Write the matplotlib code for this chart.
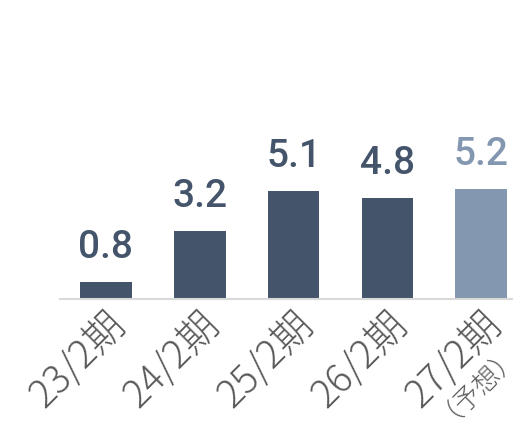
import matplotlib
matplotlib.use("Agg")
import matplotlib.pyplot as plt

plt.rcParams['font.family'] = ['Noto Sans CJK JP', 'DejaVu Sans']

labels = ['23/2期', '24/2期', '25/2期', '26/2期', '27/2期']
note = '（予想）'
values = [0.8, 3.2, 5.1, 4.8, 5.2]
colors = ['#44546a', '#44546a', '#44546a', '#44546a', '#8497b0']

fig = plt.figure(figsize=(5.13, 4.22), dpi=100)
ax = fig.add_axes([60/513, 123/422, 453/513, 299/422])

x = range(len(values))
ax.bar(x, values, width=0.55, color=colors)
for i, v in enumerate(values):
    ax.text(i, v + 0.75, f'{v:.1f}', ha='center', va='bottom',
            fontsize=28, fontweight='medium', color=colors[i],
            family=['Roboto', 'DejaVu Sans'])

ax.set_xlim(-0.49, 4.34)
ax.set_ylim(0, 14.14)
ax.set_yticks([])
ax.set_xticks(list(x))
ax.set_xticklabels(labels, rotation=45, ha='right', rotation_mode='anchor',
                   fontsize=28, color='#595959', fontweight='light')
ax.tick_params(axis='x', length=0, pad=4)

# forecast note under the last tick label
ax.annotate(note, xy=(4, 0), xycoords=ax.get_xaxis_transform(),
            xytext=(13, -22), textcoords='offset points',
            rotation=45, ha='right', va='top', rotation_mode='anchor',
            fontsize=19, color='#595959', fontweight='light')

for s in ['top', 'right', 'left']:
    ax.spines[s].set_visible(False)
ax.spines['bottom'].set_color('#d9d9d9')
ax.spines['bottom'].set_linewidth(1.5)

fig.savefig('out.png', dpi=100)
